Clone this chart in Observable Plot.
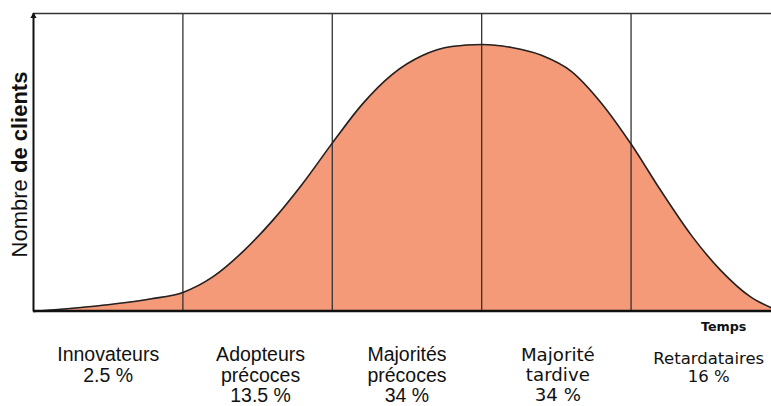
<!DOCTYPE html>
<html><head><meta charset="utf-8">
<script src="https://cdn.jsdelivr.net/npm/d3@7"></script>
<script src="https://cdn.jsdelivr.net/npm/@observablehq/plot@0.6"></script>
<style>body{margin:0;background:#fff} svg{display:block}</style>
</head><body><div id="chart"></div>
<script>
// Curve of adopters over time (time in phase units, clients as % of frame height)
const curveTime    = [0, 0.45, 0.78, 1.0, 1.2, 1.4, 1.6, 1.8, 2.0, 2.2, 2.4, 2.6, 2.8, 3.0, 3.2, 3.4, 3.6, 3.8, 4.0, 4.2, 4.4, 4.6, 4.8, 4.94];
const curveClients = [0, 2.0, 4.2, 6.4, 11.6, 20.0, 30.5, 42.8, 56.5, 69.5, 79.5, 85.8, 88.9, 89.6, 88.6, 86.0, 80.6, 70.0, 56.2, 40.5, 25.8, 13.8, 4.9, 1.2];
const phaseBounds  = [1, 2, 3, 4];
const categories   = ["Innovateurs", "Adopteurs\nprécoces", "Majorités\nprécoces", "Majorité\ntardive", "Retardataires"];
const shares       = ["2.5 %", "13.5 %", "34 %", "34 %", "16 %"];
const labelTime    = [0.5, 1.52, 2.5, 3.51, 4.52];
const axisLabelY   = "Nombre de clients";
const axisLabelX   = "Temps";
const xLabelTime   = 4.62;
const xMax = 4.94, yMax = 100;

const curve = curveTime.map((t, i) => ({t, v: curveClients[i]}));
const labels = categories.map((c, i) => ({x: labelTime[i], text: c + "\n" + shares[i]}));

const chart = Plot.plot({
  width: 771, height: 406,
  marginLeft: 33, marginRight: 0, marginTop: 13, marginBottom: 95,
  x: {domain: [0, xMax], axis: null},
  y: {domain: [0, yMax], axis: null},
  marks: [
    Plot.areaY(curve, {x: "t", y: "v", fill: "#f59a78", curve: "monotone-x"}),
    Plot.ruleX(phaseBounds, {y1: 0, y2: yMax, stroke: "#333", strokeWidth: 1.3}),
    Plot.lineY(curve, {x: "t", y: "v", stroke: "#222", strokeWidth: 1.6, curve: "monotone-x"}),
    Plot.ruleY([yMax], {x1: 0, x2: xMax, stroke: "#333", strokeWidth: 1.3}),
    Plot.ruleX([0], {y1: 0, y2: yMax, stroke: "#111", strokeWidth: 2}),
    Plot.dot([yMax - 0.9], {x: 0, y: d => d, symbol: "triangle", r: 2.3, fill: "#111", stroke: "none"}),
    Plot.ruleY([0], {x1: 0, x2: xMax, stroke: "#111", strokeWidth: 2.6, dy: -0.5}),
    Plot.text(labels.slice(0, 3), {x: "x", text: "text", frameAnchor: "bottom", lineAnchor: "top", dy: 35,
      fontFamily: "Liberation Sans", fontSize: 19.5, lineHeight: 1.05, fill: "#111"}),
    Plot.text(labels.slice(3, 4), {x: "x", text: "text", frameAnchor: "bottom", lineAnchor: "top", dy: 35,
      fontFamily: "DejaVu Sans", fontSize: 18.2, lineHeight: 1.1, fill: "#111"}),
    Plot.text(labels.slice(4, 5), {x: "x", text: "text", frameAnchor: "bottom", lineAnchor: "top", dy: 39,
      fontFamily: "DejaVu Sans", fontSize: 16.5, lineHeight: 1.12, fill: "#111"}),
    Plot.text([axisLabelX], {x: xLabelTime, text: d => d, frameAnchor: "bottom", lineAnchor: "top", dy: 10,
      fontFamily: "DejaVu Sans", fontWeight: "bold", fontSize: 12.7, fill: "#111"}),
    Plot.text([axisLabelY], {text: d => d, frameAnchor: "left", textAnchor: "middle", rotate: -90,
      lineAnchor: "bottom", dx: -7, dy: 2, fontFamily: "Liberation Sans", fontSize: 22, fill: "#111"})
  ]
});

d3.select(chart).selectAll("text")
  .filter(function() { return this.textContent === axisLabelY; })
  .each(function() {
    const el = d3.select(this);
    el.text(null);
    el.append("tspan").text("Nombre ");
    el.append("tspan").attr("font-weight", "bold").text("de clients");
  });

document.getElementById("chart").appendChild(chart);
</script>
</body></html>
